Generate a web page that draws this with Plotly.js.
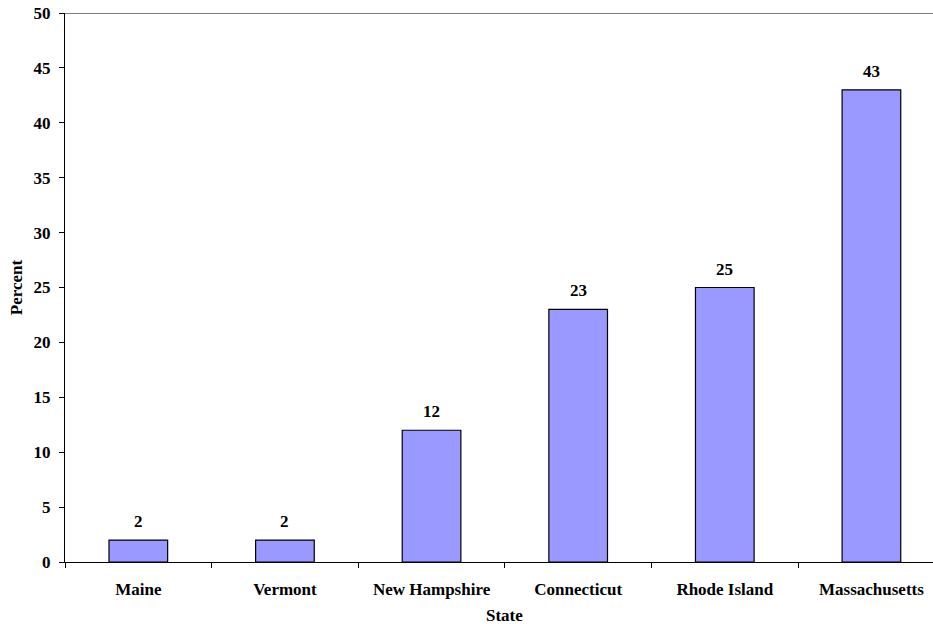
<!DOCTYPE html>
<html><head><meta charset="utf-8">
<script src="https://cdn.plot.ly/plotly-3.0.1.min.js"></script>
<style>html,body{margin:0;padding:0;background:#fff}#chart{width:933px;height:624px}</style>
</head><body><div id="chart"></div>
<script>
const states = ["Maine","Vermont","New Hampshire","Connecticut","Rhode Island","Massachusetts"];
const percents = [2,2,12,23,25,43];
const yTicks = [0,5,10,15,20,25,30,35,40,45,50];
const xTitle = "State";

const fam = "Liberation Serif, Times New Roman, serif";
const trace = {
  type:"bar", x:states, y:percents,
  marker:{color:"#9999FF", line:{color:"#000", width:1.2}},
  width:0.40,
  hoverinfo:"none"
};
const labels = states.map((s,i)=>({
  x:s, y:percents[i], xref:"x", yref:"y", text:"<b>"+percents[i]+"</b>",
  showarrow:false, yanchor:"bottom", yshift:7,
  font:{family:fam, size:17, color:"#000"}
}));
labels.push({
  x:(states.length-1)/2, xref:"x", y:0, yref:"paper", yanchor:"middle", yshift:-53,
  borderpad:0, text:"<b>"+xTitle+"</b>", showarrow:false, font:{family:fam, size:17, color:"#000"}
});
const layout = {
  width:933, height:624,
  margin:{l:65, r:0, t:13, b:62},
  paper_bgcolor:"#fff", plot_bgcolor:"#fff",
  font:{family:fam, size:17, color:"#000"},
  showlegend:false,
  xaxis:{
    type:"category", range:[-0.5,5.42], automargin:false,
    showline:true, linecolor:"#000", linewidth:1,
    ticks:"outside", tickson:"boundaries", ticklen:5, tickcolor:"#000",
    ticklabelstandoff:12,
    tickfont:{family:fam, size:17, weight:"bold"},
    fixedrange:true
  },
  yaxis:{
    range:[0,50], tickvals:yTicks, ticktext:yTicks.map(String), automargin:false,
    showline:true, linecolor:"#000", linewidth:1, showgrid:false, zeroline:false,
    ticks:"outside", ticklen:5, tickcolor:"#000",
    ticklabelstandoff:5,
    tickfont:{family:fam, size:17, weight:"bold"},
    title:{text:"<b>Percent</b>", font:{family:fam, size:17}, standoff:6},
    fixedrange:true
  },
  annotations:labels,
  shapes:[{type:"line", xref:"paper", yref:"y", x0:0, x1:1, y0:50, y1:50, line:{color:"#000", width:1}}]
};
Plotly.newPlot("chart",[trace],layout,{staticPlot:true});
</script></body></html>
